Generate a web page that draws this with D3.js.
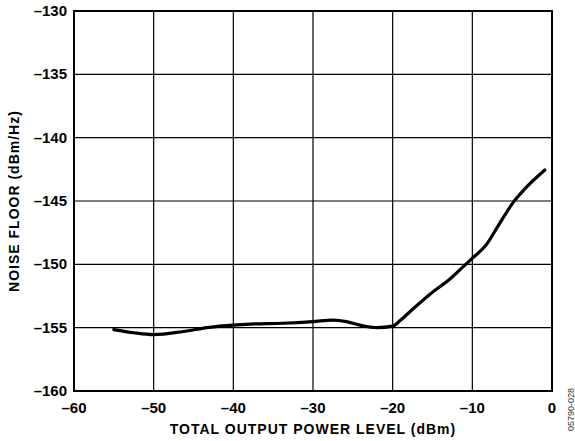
<!DOCTYPE html>
<html>
<head>
<meta charset="utf-8">
<script src="https://cdn.jsdelivr.net/npm/d3@7"></script>
<style>
  body { margin: 0; background: #fff; }
  text { font-family: "Liberation Sans", Arial, sans-serif; }
</style>
</head>
<body>
<div class="chart"></div>
<script>
// noise floor vs total output power
var powerLevel = [-55, -52.5, -50, -46.3, -43, -40, -37.9, -33.8, -30, -27.5, -25.8, -24.1, -22, -20, -19, -17.5, -15.2, -12.7, -11, -9.8, -8.3, -6.8, -4.8, -3.5, -0.9];
var noiseFloor = [-155.15, -155.4, -155.55, -155.3, -154.97, -154.8, -154.72, -154.65, -154.52, -154.4, -154.52, -154.8, -155.0, -154.88, -154.4, -153.55, -152.3, -151.1, -150.1, -149.4, -148.5, -147.0, -145.05, -144.1, -142.55];
var xTicks = [-60, -50, -40, -30, -20, -10, 0];
var yTicks = [-160, -155, -150, -145, -140, -135, -130];

var width = 575;
var height = 441;
var margin = { left: 74, right: 23, top: 11, bottom: 50 };
var plotW = width - margin.left - margin.right;
var plotH = height - margin.top - margin.bottom;

var svg = d3.select(".chart")
    .append("svg")
    .attr("width", width)
    .attr("height", height);

var x = d3.scaleLinear().domain([-60, 0]).range([margin.left, margin.left + plotW]);
var y = d3.scaleLinear().domain([-160, -130]).range([margin.top + plotH, margin.top]);

function fmt(d) {
    return d < 0 ? "\u2013" + Math.abs(d) : String(d);
}

//////// grid
svg.append("g").selectAll("line.vx")
    .data(xTicks)
    .enter().append("line")
    .attr("x1", function(d) { return x(d); })
    .attr("x2", function(d) { return x(d); })
    .attr("y1", margin.top)
    .attr("y2", margin.top + plotH)
    .attr("stroke", "#000")
    .attr("stroke-width", 1.2);

svg.append("g").selectAll("line.hy")
    .data(yTicks)
    .enter().append("line")
    .attr("x1", margin.left)
    .attr("x2", margin.left + plotW)
    .attr("y1", function(d) { return y(d); })
    .attr("y2", function(d) { return y(d); })
    .attr("stroke", "#000")
    .attr("stroke-width", 1.2);

// frame
svg.append("rect")
    .attr("x", margin.left)
    .attr("y", margin.top)
    .attr("width", plotW)
    .attr("height", plotH)
    .attr("fill", "none")
    .attr("stroke", "#000")
    .attr("stroke-width", 2);

//////// tick labels
svg.append("g").selectAll("text")
    .data(xTicks)
    .enter().append("text")
    .attr("x", function(d) { return x(d); })
    .attr("y", margin.top + plotH + 22)
    .attr("text-anchor", "middle")
    .attr("font-size", "15px")
    .attr("font-weight", "bold")
    .text(fmt);

svg.append("g").selectAll("text")
    .data(yTicks)
    .enter().append("text")
    .attr("x", margin.left - 7)
    .attr("y", function(d) { return y(d) + 5; })
    .attr("text-anchor", "end")
    .attr("font-size", "15px")
    .attr("font-weight", "bold")
    .text(fmt);

//////// axis titles
svg.append("text")
    .attr("x", margin.left + plotW / 2)
    .attr("y", 434)
    .attr("text-anchor", "middle")
    .attr("font-size", "14px")
    .attr("font-weight", "bold")
    .attr("letter-spacing", "1px")
    .text("TOTAL OUTPUT POWER LEVEL (dBm)");

svg.append("text")
    .attr("transform", "translate(19," + (margin.top + plotH / 2) + ") rotate(-90)")
    .attr("text-anchor", "middle")
    .attr("font-size", "14px")
    .attr("font-weight", "bold")
    .attr("letter-spacing", "1px")
    .text("NOISE FLOOR (dBm/Hz)");

svg.append("text")
    .attr("transform", "translate(574,388) rotate(-90)")
    .attr("text-anchor", "end")
    .attr("font-size", "9px")
    .attr("fill", "#333")
    .text("05790-028");

//////// curve
var line = d3.line()
    .x(function(d, i) { return x(powerLevel[i]); })
    .y(function(d) { return y(d); })
    .curve(d3.curveMonotoneX);

svg.append("path")
    .datum(noiseFloor)
    .attr("d", line)
    .attr("fill", "none")
    .attr("stroke", "#000")
    .attr("stroke-width", 3.2)
    .attr("stroke-linecap", "round")
    .attr("stroke-linejoin", "round");
</script>
</body>
</html>
